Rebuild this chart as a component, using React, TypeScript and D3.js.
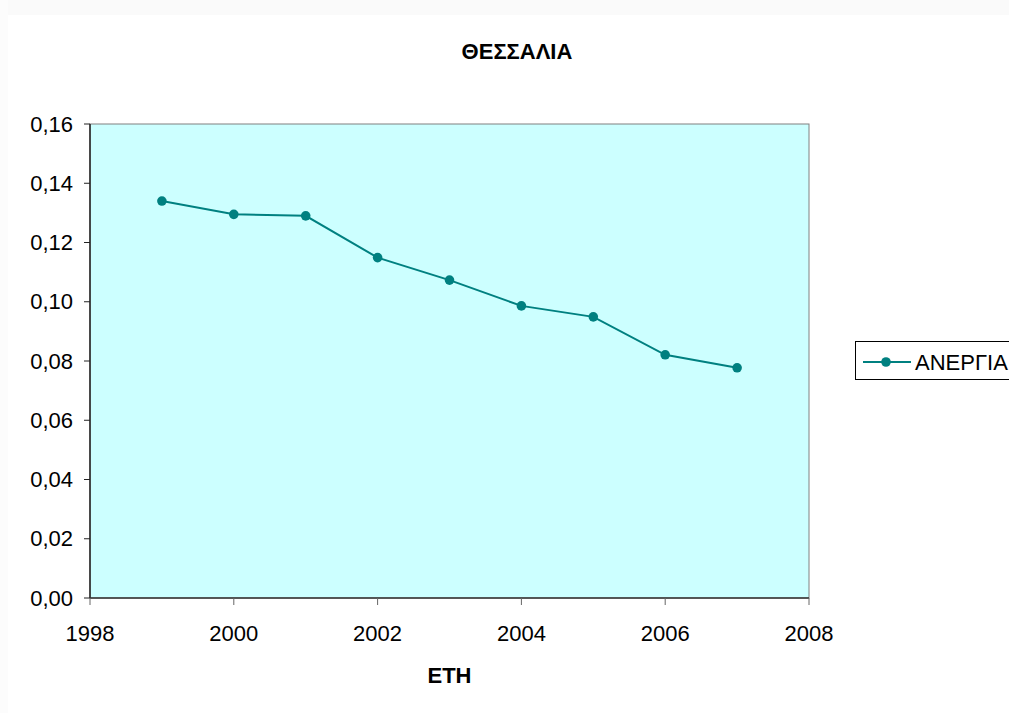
import React from "react";
import * as d3 from "d3";

const years = [1999, 2000, 2001, 2002, 2003, 2004, 2005, 2006, 2007];
const unemployment = [0.134, 0.1295, 0.129, 0.1149, 0.1073, 0.0986, 0.0949, 0.0821, 0.0777];
const yTicks = [0, 0.02, 0.04, 0.06, 0.08, 0.1, 0.12, 0.14, 0.16];
const xTicks = [1998, 2000, 2002, 2004, 2006, 2008];
const title = "ΘΕΣΣΑΛΙΑ";
const xTitle = "ΕΤΗ";
const seriesName = "ΑΝΕΡΓΙΑ";

const W = 1009;
const H = 713;
const L = 90, R = 809, T = 124, B = 598;
const FONT = "Arial, 'Liberation Sans', sans-serif";
const TEAL = "#008080";
const FS = 22;

export default function App() {
  const x = d3.scaleLinear().domain([1998, 2008]).range([L, R]);
  const y = d3.scaleLinear().domain([0, 0.16]).range([B, T]);
  const line = d3
    .line<number>()
    .x((_, i) => x(years[i]))
    .y((d) => y(d));
  const fmt = (v: number) => v.toFixed(2).replace(".", ",");

  return (
    <svg
      width={W}
      height={H}
      style={{ position: "absolute", left: 0, top: 0, background: "#fff" }}
      fontFamily={FONT}
    >
      <rect x={0} y={0} width={W} height={15} fill="#fafafa" />
      <rect x={0} y={0} width={8} height={H} fill="#fcfcfc" />
      <text x={517} y={59} textAnchor="middle" fontSize={FS} fontWeight="bold">
        {title}
      </text>
      <rect x={L} y={T} width={R - L} height={B - T} fill="#CCFFFF" stroke="#808080" strokeWidth={1} />
      {/* axes */}
      <line x1={L} y1={T} x2={L} y2={B} stroke="#222" strokeWidth={1.5} />
      <line x1={L} y1={B} x2={R} y2={B} stroke="#333" strokeWidth={1.5} />
      {yTicks.map((t) => (
        <g key={"y" + t}>
          <line x1={L - 6} x2={L} y1={y(t)} y2={y(t)} stroke="#222" strokeWidth={1} />
          <text x={73} y={y(t)} dy="0.35em" textAnchor="end" fontSize={FS}>
            {fmt(t)}
          </text>
        </g>
      ))}
      {xTicks.map((t) => (
        <g key={"x" + t}>
          <line x1={x(t)} x2={x(t)} y1={B} y2={B + 7} stroke="#666" strokeWidth={1} />
          <text x={x(t)} y={641} textAnchor="middle" fontSize={FS}>
            {t}
          </text>
        </g>
      ))}
      <text x={449.5} y={683} textAnchor="middle" fontSize={FS} fontWeight="bold">
        {xTitle}
      </text>
      <path d={line(unemployment) || ""} fill="none" stroke={TEAL} strokeWidth={2} />
      {unemployment.map((v, i) => (
        <circle key={i} cx={x(years[i])} cy={y(v)} r={4.8} fill={TEAL} />
      ))}
      {/* legend */}
      <rect x={855.5} y={341.5} width={170} height={38} fill="#fff" stroke="#000" strokeWidth={1} />
      <line x1={863} x2={911} y1={362} y2={362} stroke={TEAL} strokeWidth={2} />
      <circle cx={886} cy={362} r={4.8} fill={TEAL} />
      <text x={915} y={362} dy="0.35em" fontSize={FS}>
        {seriesName}
      </text>
    </svg>
  );
}
